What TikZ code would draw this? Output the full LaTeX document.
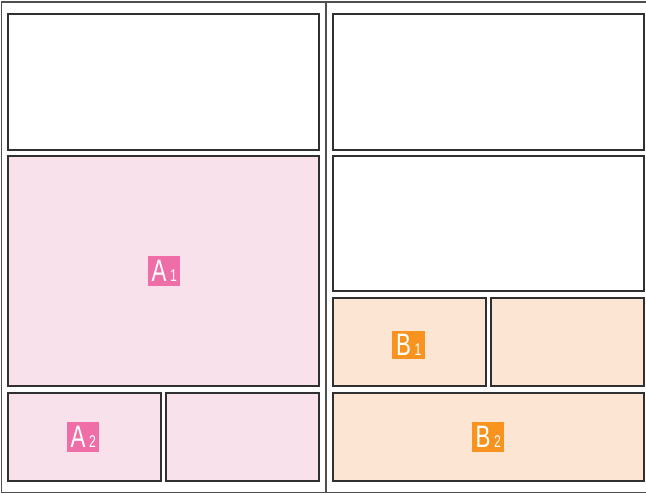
\documentclass[tikz,border=0pt]{standalone}
\usepackage{fontspec}
\usepackage{graphicx}
\setmainfont{Liberation Sans}
\definecolor{pinkfill}{HTML}{F9E1EC}
\definecolor{pinktag}{HTML}{EF6EA7}
\definecolor{orangefill}{HTML}{FDE5D3}
\definecolor{orangetag}{HTML}{F7931E}
\definecolor{edge}{HTML}{303030}
\tikzset{
  panel/.style={draw=edge, line width=1.3pt},
  framel/.style={draw=edge!85, line width=1.1pt},
  tag/.style={text=white, inner sep=0pt, minimum width=32pt, minimum height=30pt, anchor=north west},
}
\newcommand{\tagtext}[2]{\scalebox{0.72}[1]{\fontsize{31}{31}\selectfont #1\hspace{5pt}\fontsize{17}{17}\selectfont #2}}
\begin{document}
\begin{tikzpicture}[x=1pt,y=-1pt]
\useasboundingbox (0,0) rectangle (646,494);
% outer frame
\draw[framel] (646,2) -- (1.5,2) -- (1.5,492.5) -- (646,492.5);
\draw[framel] (326,2) -- (326,492.5);
% left column
\draw[panel] (8,14) rectangle (319,150);
\draw[panel, fill=pinkfill] (8,156) rectangle (319,386);
\draw[panel, fill=pinkfill] (8,393) rectangle (161,481);
\draw[panel, fill=pinkfill] (166,393) rectangle (319,481);
% right column
\draw[panel] (333,14) rectangle (644,150);
\draw[panel] (333,156) rectangle (644,291);
\draw[panel, fill=orangefill] (333,298) rectangle (486,386);
\draw[panel, fill=orangefill] (491,298) rectangle (644,386);
\draw[panel, fill=orangefill] (333,393) rectangle (644,481);
% tags
\node[tag, fill=pinktag] (a1) at (148,256) {\tagtext{A}{1}};
\node[tag, fill=pinktag] (a2) at (67,422) {\tagtext{A}{2}};
\node[tag, fill=orangetag, minimum width=33pt, minimum height=28pt] (b1) at (392,331) {\tagtext{B}{1}};
\node[tag, fill=orangetag] (b2) at (472,422) {\tagtext{B}{2}};
\end{tikzpicture}
\end{document}
